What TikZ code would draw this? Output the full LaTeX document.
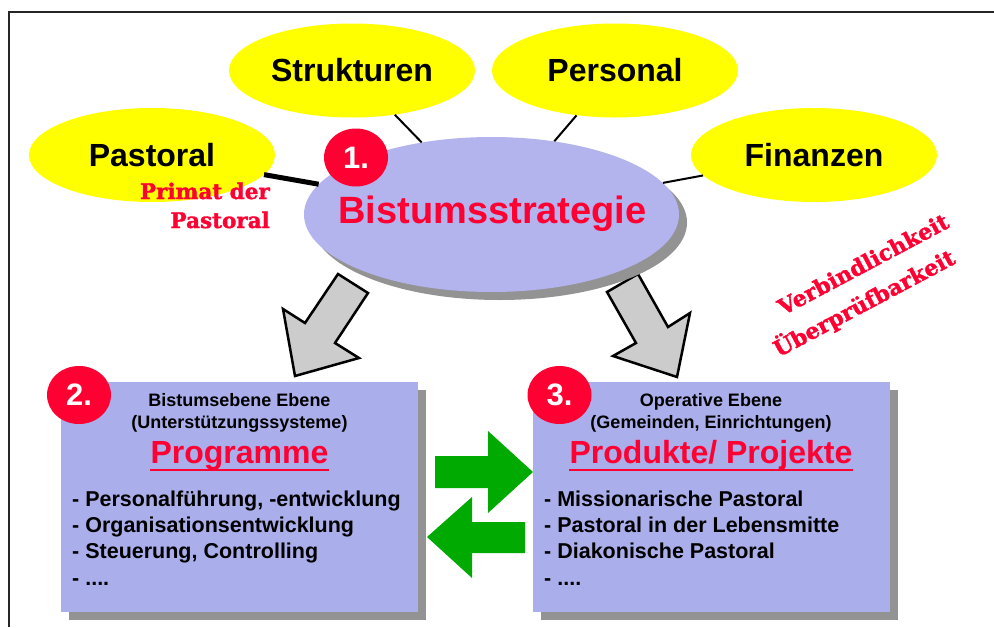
\documentclass[tikz,border=0pt]{standalone}
\usepackage{fontspec}
\setmainfont{Liberation Sans}
\newfontfamily\slabfont{DejaVu Serif}[BoldFeatures={FakeBold=1.6}]
\usetikzlibrary{shapes.geometric,shadows}
\definecolor{hlred}{HTML}{FF0033}
\definecolor{ellyellow}{HTML}{FFFF00}
\definecolor{mainpurple}{HTML}{B3B3EE}
\definecolor{boxpurple}{HTML}{AAAEEA}
\definecolor{shadowgray}{HTML}{939393}
\definecolor{arrowgray}{HTML}{CCCCCC}
\definecolor{arrowgreen}{HTML}{00AA00}
\newcommand\fs[1]{\fontsize{#1}{#1}\selectfont}
\begin{document}
\begin{tikzpicture}[x=1pt,y=-1pt,
  topic/.style={ellipse, fill=ellyellow, minimum width=246pt, minimum height=94pt, inner sep=0pt, font=\fs{32}\bfseries},
  mainell/.style={ellipse, fill=mainpurple, minimum width=375pt, minimum height=155pt, inner sep=0pt,
     general shadow={fill=shadowgray, shadow xshift=8pt, shadow yshift=-8pt}},
  mainlbl/.style={inner sep=0pt, text=hlred, font=\fs{38}\bfseries},
  numdot/.style={ellipse, fill=hlred, minimum width=64pt, minimum height=58pt, inner sep=0pt, text=white, font=\fs{31}\bfseries},
  panel/.style={rectangle, fill=boxpurple, minimum width=357pt, minimum height=230pt, inner sep=0pt,
     general shadow={fill=shadowgray, shadow xshift=8pt, shadow yshift=-8pt}},
  hdr/.style={inner sep=0pt, font=\fs{18}\bfseries, anchor=base},
  ttl/.style={inner sep=0pt, font=\fs{32}\bfseries, text=hlred, anchor=base},
  item/.style={inner sep=0pt, font=\fs{21.5}\bfseries, anchor=base west},
  slabtxt/.style={inner sep=0pt, text=hlred, font=\slabfont\bfseries\fs{21.5}},
  thinlink/.style={line width=2pt},
  thicklink/.style={line width=5pt},
  grayarrow/.style={fill=arrowgray, draw=black, line width=2.5pt, line join=miter},
  greenarrow/.style={fill=arrowgreen},
  uline/.style={hlred, line width=2.5pt}
]
\useasboundingbox (0,0) rectangle (994,627);
\fill[white] (0,0) rectangle (994,627);
% frame
\draw[line width=1.5pt, black!85] (9,627) -- (9,12) -- (994,12);

% gray arrows
\draw[grayarrow] (338,274) -- (368,293) -- (335,343) -- (359,358) -- (295,376) -- (283,309) -- (305,323) -- cycle;
\draw[grayarrow] (607,292) -- (638,274) -- (668,327) -- (690,313) -- (677,377) -- (613,356) -- (636,343) -- cycle;

% central ellipse and topics
\node[mainell] (bistum) at (491.5,214.5) {};
\node[topic] (strukturen) at (352,70.5) {Strukturen};
\node[topic] (personal) at (615,70.5) {Personal};
\node[topic] (pastoral) at (152,155) {Pastoral};
\node[topic] (finanzen) at (814,155) {Finanzen};

\draw[thinlink] (strukturen) -- (bistum);
\draw[thinlink] (personal) -- (bistum);
\draw[thinlink] (finanzen) -- (bistum);
\draw[thicklink] (pastoral) -- (bistum);

\node[mainlbl] (bistumlbl) at (492.5,214) {Bistumsstrategie};
\node[numdot] (n1) at (356,157.5) {1.};

\node[slabtxt, anchor=base east] (primat1) at (270,199) {Primat der};
\node[slabtxt, anchor=base east] (primat2) at (270,228) {Pastoral};

\node[slabtxt, rotate=28, font=\slabfont\bfseries\fs{22}] (verb) at (863,264) {Verbindlichkeit};
\node[slabtxt, rotate=28, font=\slabfont\bfseries\fs{22}] (uebp) at (864,303) {Überprüfbarkeit};

% green arrows
\fill[greenarrow] (435,456) -- (488,456) -- (488,431) -- (533,472) -- (488,513) -- (488,488) -- (435,488) -- cycle;
\fill[greenarrow] (427,537) -- (472,497) -- (472,522) -- (525,522) -- (525,553) -- (472,553) -- (472,578) -- cycle;

% box 2
\node[panel] (box2) at (239.5,497) {};
\node[numdot] (n2) at (79,395) {2.};
\node[hdr] (b2h1) at (239.5,406) {Bistumsebene Ebene};
\node[hdr] (b2h2) at (239.5,428) {(Unterstützungssysteme)};
\node[ttl] (b2t) at (239.5,463) {Programme};
\draw[uline] ([yshift=-7pt]b2t.base west) -- ([yshift=-7pt]b2t.base east);
\node[item] (b2l1) at (72,506) {- Personalführung, -entwicklung};
\node[item] (b2l2) at (72,532.5) {- Organisationsentwicklung};
\node[item] (b2l3) at (72,558.5) {- Steuerung, Controlling};
\node[item] (b2l4) at (72,585) {- ....};

% box 3
\node[panel] (box3) at (711,497) {};
\node[numdot] (n3) at (559.5,395) {3.};
\node[hdr] (b3h1) at (711,406) {Operative Ebene};
\node[hdr] (b3h2) at (711,428) {(Gemeinden, Einrichtungen)};
\node[ttl] (b3t) at (711,463) {Produkte/ Projekte};
\draw[uline] ([yshift=-7pt]b3t.base west) -- ([yshift=-7pt]b3t.base east);
\node[item] (b3l1) at (544,506) {- Missionarische Pastoral};
\node[item] (b3l2) at (544,532.5) {- Pastoral in der Lebensmitte};
\node[item] (b3l3) at (544,558.5) {- Diakonische Pastoral};
\node[item] (b3l4) at (544,585) {- ....};
\end{tikzpicture}
\end{document}
